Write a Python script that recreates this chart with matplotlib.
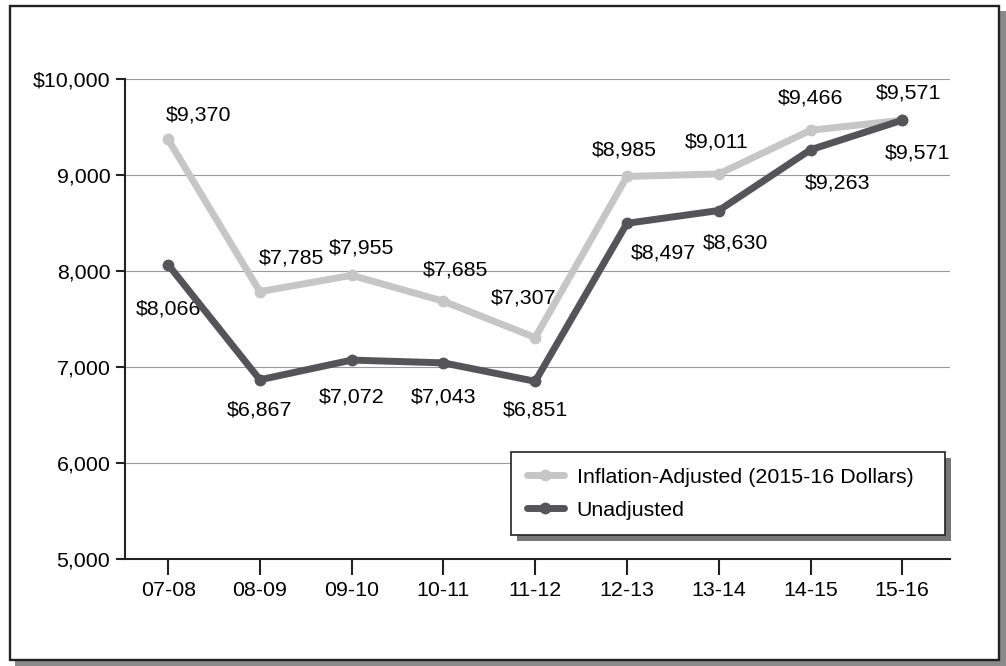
import matplotlib
matplotlib.use("Agg")
import matplotlib.pyplot as plt
from matplotlib.patches import Rectangle

# data
years = ["07-08", "08-09", "09-10", "10-11", "11-12", "12-13", "13-14", "14-15", "15-16"]
adjusted = [9370, 7785, 7955, 7685, 7307, 8985, 9011, 9466, 9571]
unadjusted = [8066, 6867, 7072, 7043, 6851, 8497, 8630, 9263, 9571]

# label offsets (pixels) so the numbers sit like in the original
adj_off = [(30, 24), (32, 34), (10, 27), (12, 31), (-12, 40), (-3, 26), (-2, 32), (0, 32), (6, 27)]
unadj_off = [(0, -44), (0, -30), (0, -37), (0, -34), (0, -29), (36, -30), (17, -32), (27, -33), (15, -33)]

light = "#c6c6c6"
dark = "#555557"

plt.rcParams["font.family"] = ["Liberation Sans", "DejaVu Sans"]
plt.rcParams["font.size"] = 15.4

fig = plt.figure(figsize=(10.06, 6.66), dpi=100)
fig.patch.set_facecolor("white")
W, H = 1006, 666

# outer frame with drop shadow
fig.patches.append(Rectangle((15 / W, 0), (W - 15) / W, 655 / H, transform=fig.transFigure,
                             facecolor="#8a8a8a", edgecolor="none", zorder=-2))
fig.patches.append(Rectangle((10 / W, 6 / H), 989 / W, 654 / H, transform=fig.transFigure,
                             facecolor="white", edgecolor="#222222", linewidth=1.7, zorder=-1))

ax = fig.add_axes([125 / W, 107 / H, 825 / W, 480 / H])
ax.patch.set_visible(False)

x = list(range(len(years)))
ax.plot(x, adjusted, color=light, lw=5, marker="o", ms=7.5, solid_capstyle="round",
        label="Inflation-Adjusted (2015-16 Dollars)", zorder=3)
ax.plot(x, unadjusted, color=dark, lw=5, marker="o", ms=7.5, solid_capstyle="round",
        label="Unadjusted", zorder=4)

for i, v in enumerate(adjusted):
    ax.annotate(f"${v:,}", (i, v), xytext=adj_off[i], textcoords="offset pixels",
                ha="center", va="center")
for i, v in enumerate(unadjusted):
    ax.annotate(f"${v:,}", (i, v), xytext=unadj_off[i], textcoords="offset pixels",
                ha="center", va="center")

ax.set_xlim(-0.47, 8.52)
ax.set_ylim(5000, 10000)
ax.set_xticks(x)
ax.set_xticklabels(years)
yt = [5000, 6000, 7000, 8000, 9000, 10000]
ax.set_yticks(yt)
ax.set_yticklabels(["$10,000" if t == 10000 else f"{t:,}" for t in yt])

for s in ["top", "right"]:
    ax.spines[s].set_visible(False)
for s in ["left", "bottom"]:
    ax.spines[s].set_linewidth(1.5)
    ax.spines[s].set_color("#222222")
ax.tick_params(axis="x", length=11.5, width=1.5, color="#222222", pad=4)
ax.tick_params(axis="y", length=6.5, width=1.5, color="#222222", pad=4)
ax.yaxis.grid(True, color="#9a9a9a", lw=0.8)
ax.set_axisbelow(True)

# legend drawn without frame; frame + shadow added by hand (extra room on the right)
extra = 16
leg = ax.legend(loc="lower right", bbox_to_anchor=(0.9745, 0.05), borderaxespad=0,
                frameon=False, handlelength=1.75,
                labelspacing=0.65, borderpad=0.72, handletextpad=0.6)
leg.set_zorder(5)

fig.canvas.draw()
bb = leg.get_window_extent()
ax.add_patch(Rectangle((bb.x0 + 6, bb.y0 - 6), bb.width + extra, bb.height, transform=None,
                       facecolor="#777777", edgecolor="none", zorder=4.5, clip_on=False))
ax.add_patch(Rectangle((bb.x0, bb.y0), bb.width + extra, bb.height, transform=None,
                       facecolor="white", edgecolor="#222222", lw=1.2, zorder=4.8, clip_on=False))

fig.savefig("out.png", dpi=100)
